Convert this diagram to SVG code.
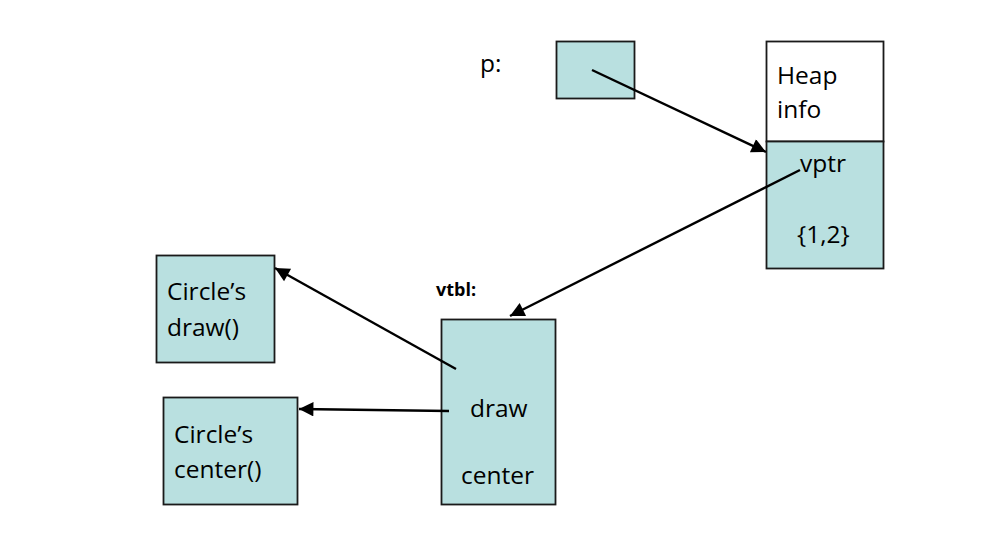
<svg xmlns="http://www.w3.org/2000/svg" width="993" height="547" viewBox="0 0 993 547">
<style>
.box{fill:#B9E0E0;stroke:#1a1a1a;stroke-width:1.8}
.white{fill:#ffffff;stroke:#1a1a1a;stroke-width:1.8}
.t{font-family:"Open Sans","Liberation Sans",sans-serif;font-size:24.5px;fill:#000}
.b{font-family:"Open Sans","Liberation Sans",sans-serif;font-size:18px;font-weight:bold;fill:#000}
.c{stroke:#000;stroke-width:2.4;fill:none;marker-end:url(#ah)}
</style>
<defs>
<marker id="ah" viewBox="0 0 10 10" refX="10" refY="5" markerWidth="7" markerHeight="6" markerUnits="strokeWidth" orient="auto">
<path d="M0,0 L10,5 L0,10 z" fill="#000"/>
</marker>
</defs>
<rect width="993" height="547" fill="#fff"/>
<g id="p-label"><text class="t" x="480" y="72">p:</text></g>
<g id="p-box"><rect class="box" x="556.5" y="41.5" width="78" height="57"/></g>
<g id="heap">
<rect class="white" x="766.5" y="41.5" width="117" height="100"/>
<rect class="box" x="766.5" y="141.5" width="117" height="127"/>
<text class="t" x="777" y="84">Heap</text>
<text class="t" x="777" y="118">info</text>
<text class="t" x="800" y="172">vptr</text>
<text class="t" x="797" y="243">{1,2}</text>
</g>
<g id="vtbl-label"><text class="b" x="436" y="296">vtbl:</text></g>
<g id="vtbl">
<rect class="box" x="441.5" y="319.5" width="114" height="185"/>
<text class="t" x="470" y="417">draw</text>
<text class="t" x="461" y="484">center</text>
</g>
<g id="circle-draw">
<rect class="box" x="156.5" y="255.5" width="118" height="107"/>
<text class="t" x="167" y="300">Circle’s</text>
<text class="t" x="167" y="336">draw()</text>
</g>
<g id="circle-center">
<rect class="box" x="163.5" y="397.5" width="134" height="107"/>
<text class="t" x="174" y="443">Circle’s</text>
<text class="t" x="174" y="478">center()</text>
</g>
<g id="connectors">
<line class="c" x1="592" y1="70" x2="766" y2="152"/>
<line class="c" x1="800" y1="170" x2="510" y2="316"/>
<line class="c" x1="456" y1="369" x2="275" y2="268"/>
<line class="c" x1="449" y1="411" x2="299" y2="409"/>
</g>
</svg>
